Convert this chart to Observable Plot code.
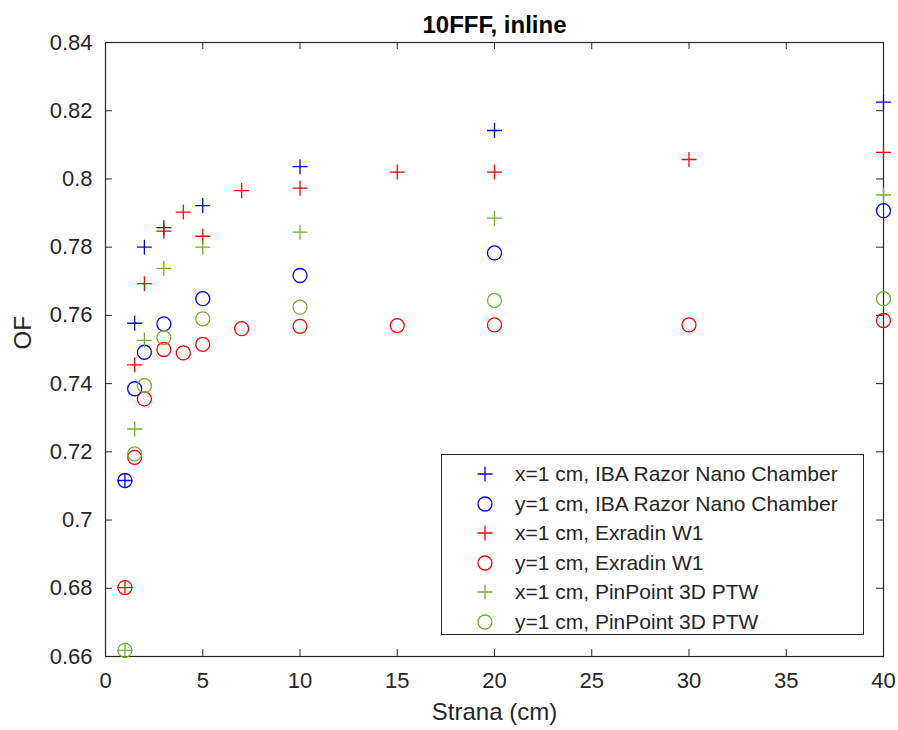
<!DOCTYPE html>
<html>
<head>
<meta charset="utf-8">
<script src="https://cdn.jsdelivr.net/npm/d3@7"></script>
<script src="https://cdn.jsdelivr.net/npm/@observablehq/plot@0.6"></script>
<style>
  html, body { margin: 0; padding: 0; background: #fff; }
  #wrap { position: relative; width: 898px; height: 730px; font-family: "Liberation Sans", Arial, sans-serif; }
  #legend { position: absolute; left: 441px; top: 454px; width: 423px; height: 181px; border: 1px solid #262626; background: #fff; box-sizing: border-box; }
  .row { position: absolute; left: 0; height: 30px; display: flex; align-items: center; font-size: 21px; color: #262626; white-space: nowrap; }
  .row svg { margin-left: 33px; margin-right: 20px; }
</style>
</head>
<body>
<div id="wrap"><div id="legend"></div></div>
<script>
// ---- data ----
const title = "10FFF, inline";
const xLabel = "Strana (cm)";
const yLabel = "OF";
const xTicks = [0, 5, 10, 15, 20, 25, 30, 35, 40];
const yTicks = [0.66, 0.68, 0.70, 0.72, 0.74, 0.76, 0.78, 0.80, 0.82, 0.84];

const xIBA = [1, 1.5, 2, 3, 5, 10, 20, 40];
const ibaX = [0.7116, 0.7577, 0.7800, 0.7857, 0.7922, 0.8036, 0.8142, 0.8225];
const ibaY = [0.7116, 0.7385, 0.7492, 0.7575, 0.7649, 0.7717, 0.7783, 0.7907];

const xW1 = [1, 1.5, 2, 3, 4, 5, 7, 10, 15, 20, 30, 40];
const w1X = [0.6802, 0.7455, 0.7693, 0.7847, 0.7903, 0.7832, 0.7966, 0.7973, 0.8020, 0.8020, 0.8057, 0.8078];
const w1Y = [0.6802, 0.7184, 0.7355, 0.7500, 0.7490, 0.7515, 0.7561, 0.7568, 0.7570, 0.7572, 0.7572, 0.7585];

const xPTW = [1, 1.5, 2, 3, 5, 10, 20, 40];
const ptwX = [0.6618, 0.7267, 0.7527, 0.7738, 0.7800, 0.7844, 0.7885, 0.7953];
const ptwY = [0.6618, 0.7194, 0.7394, 0.7535, 0.7590, 0.7624, 0.7644, 0.7649];

const seriesNames = [
  "x=1 cm, IBA Razor Nano Chamber",
  "y=1 cm, IBA Razor Nano Chamber",
  "x=1 cm, Exradin W1",
  "y=1 cm, Exradin W1",
  "x=1 cm, PinPoint 3D PTW",
  "y=1 cm, PinPoint 3D PTW"
];
const seriesColors = ["#0000ff", "#0000ff", "#ff0000", "#ff0000", "#77ac30", "#77ac30"];
const seriesMarkers = ["plus", "circle", "plus", "circle", "plus", "circle"];

// ---- build ----
const seriesX = [xIBA, xIBA, xW1, xW1, xPTW, xPTW];
const seriesV = [ibaX, ibaY, w1X, w1Y, ptwX, ptwY];

const crossSymbol = {
  draw(context, size) {
    const r = Math.sqrt(size / Math.PI);
    context.moveTo(-r, 0); context.lineTo(r, 0);
    context.moveTo(0, -r); context.lineTo(0, r);
  }
};

const W = 898, H = 730, mL = 105, mR = 15, mT = 42, mB = 74;
const pw = W - mL - mR, ph = H - mT - mB;
const axisColor = "#262626";
const tickLen = 7;

const marks = [];
seriesNames.forEach((name, i) => {
  const data = seriesX[i].map((x, j) => ({x, v: seriesV[i][j]}));
  const isPlus = seriesMarkers[i] === "plus";
  marks.push(Plot.dot(data, {
    x: "x", y: "v",
    symbol: isPlus ? crossSymbol : "circle",
    r: isPlus ? 7.5 : 7,
    fill: "none",
    stroke: seriesColors[i],
    strokeWidth: 1.3
  }));
});

const fmt = d => String(+d.toFixed(2));

const chart = Plot.plot({
  width: W, height: H,
  marginLeft: mL, marginRight: mR, marginTop: mT, marginBottom: mB,
  style: {fontFamily: "'Liberation Sans', Arial, sans-serif", fontSize: "22px", color: axisColor, background: "#fff"},
  x: {domain: [0, 40]},
  y: {domain: [0.66, 0.84]},
  marks: [
    Plot.frame({stroke: axisColor, strokeWidth: 1.2}),
    // inward ticks on all four sides
    Plot.tickX(xTicks, {x: d => d, insetTop: ph - tickLen, stroke: axisColor}),
    Plot.tickX(xTicks, {x: d => d, insetBottom: ph - tickLen, stroke: axisColor}),
    Plot.tickY(yTicks, {y: d => d, insetRight: pw - tickLen, stroke: axisColor}),
    Plot.tickY(yTicks, {y: d => d, insetLeft: pw - tickLen, stroke: axisColor}),
    Plot.axisX({ticks: xTicks, tickSize: 0, tickPadding: 16, tickFormat: fmt, label: null, fill: axisColor}),
    Plot.axisY({ticks: yTicks, tickSize: 0, tickPadding: 13, tickFormat: fmt, label: null, fill: axisColor}),
    ...marks,
    Plot.text([title], {frameAnchor: "top", dy: -27, fontSize: 24, fontWeight: "bold", fill: "#000"}),
    Plot.text([xLabel], {frameAnchor: "bottom", dy: 63, fontSize: 24, fill: axisColor}),
    Plot.text([yLabel], {frameAnchor: "left", dx: -82, rotate: -90, fontSize: 24, fill: axisColor})
  ]
});
const wrap = document.getElementById("wrap");
wrap.insertBefore(chart, wrap.firstChild);

// legend
const legend = document.getElementById("legend");
seriesNames.forEach((name, i) => {
  const row = document.createElement("div");
  row.className = "row";
  row.style.top = (4 + i * 29.6) + "px";
  const ns = "http://www.w3.org/2000/svg";
  const s = document.createElementNS(ns, "svg");
  s.setAttribute("width", 20); s.setAttribute("height", 20);
  let el;
  if (seriesMarkers[i] === "plus") {
    el = document.createElementNS(ns, "path");
    el.setAttribute("d", "M2.5,10H17.5M10,2.5V17.5");
  } else {
    el = document.createElementNS(ns, "circle");
    el.setAttribute("cx", 10); el.setAttribute("cy", 10); el.setAttribute("r", 7);
  }
  el.setAttribute("fill", "none");
  el.setAttribute("stroke", seriesColors[i]);
  el.setAttribute("stroke-width", 1.3);
  s.appendChild(el);
  row.appendChild(s);
  const t = document.createElement("span");
  t.textContent = name;
  row.appendChild(t);
  legend.appendChild(row);
});
</script>
</body>
</html>
